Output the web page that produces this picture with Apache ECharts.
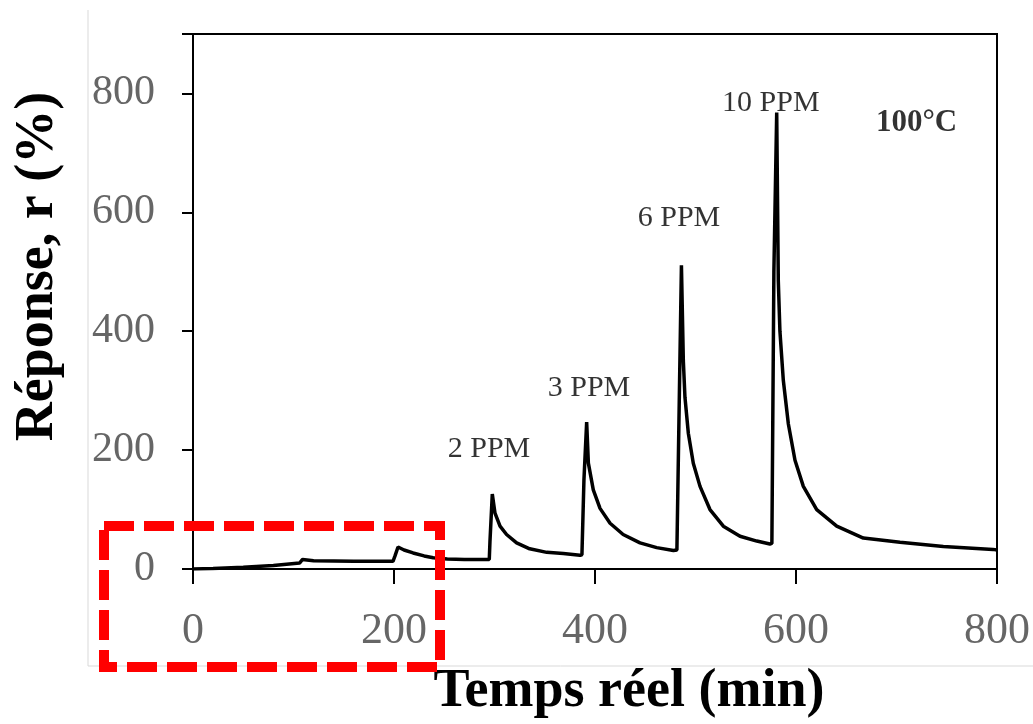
<!DOCTYPE html>
<html>
<head>
<meta charset="utf-8">
<script src="https://cdn.jsdelivr.net/npm/echarts@6/dist/echarts.min.js"></script>
<style>
html,body{margin:0;padding:0;background:#fff;}
#chart{width:1033px;height:724px;}
</style>
</head>
<body>
<div id="chart"></div>
<script>
// Time (min)
var timeMin = [0, 20, 50, 80, 106, 109, 120, 160, 199, 201, 204, 210, 219, 230, 239, 253, 270, 292,
  294.8, 295.5, 297.8, 300.5, 305.5, 312, 322, 335, 352, 368.5, 385, 387,
  389, 391.7, 393.4, 398.3, 405, 415, 428, 444.8, 461.4, 478, 481.5,
  484, 486, 487.9, 489.5, 492.9, 497.8, 504.5, 514.4, 527.7, 544.3, 561, 574, 576,
  578, 580.8, 582.4, 584, 587.4, 592.4, 599, 607.3, 620.6, 640.5, 667, 703.5, 746.6, 796, 800];
// Response r (%)
var response = [0, 1, 3, 6, 10, 16, 14, 13, 13, 22, 37, 32, 27, 22, 19, 17, 16, 16,
  16, 47, 126, 94, 72, 58, 44, 34, 28, 26, 23, 24,
  150, 247, 178, 133, 102, 77, 58, 44, 36, 31, 32,
  300, 511, 350, 289, 228, 178, 139, 100, 72, 55, 47, 42, 43,
  500, 768, 484, 400, 317, 244, 183, 139, 100, 72, 52, 45, 38, 33, 32];
var xTicks = [0, 200, 400, 600, 800];
var yTicks = [0, 200, 400, 600, 800];
var annotations = [
  {text: '2 PPM', x: 294.5, y: 202, bold: false},
  {text: '3 PPM', x: 394, y: 304, bold: false},
  {text: '6 PPM', x: 483.6, y: 590, bold: false},
  {text: '10 PPM', x: 575, y: 784, bold: false},
  {text: '100°C', x: 720, y: 751, bold: true}
];

var seriesData = timeMin.map(function (t, i) { return [t, response[i]]; });
var FONT = '"Liberation Serif", "Times New Roman", serif';

var chart = echarts.init(document.getElementById('chart'), null, {renderer: 'canvas'});
chart.setOption({
  backgroundColor: '#fff',
  animation: false,
  grid: {left: 193, right: 36, top: 34, bottom: 151, show: true, borderColor: '#000', borderWidth: 2, backgroundColor: 'transparent'},
  xAxis: {
    type: 'value', min: 0, max: 800, interval: 200,
    name: 'Temps réel (min)', nameLocation: 'middle', nameGap: 96,
    nameTextStyle: {fontFamily: FONT, fontWeight: 'bold', fontSize: 54, color: '#000', padding: [0, 0, 0, 68]},
    axisLine: {show: true, lineStyle: {color: '#000', width: 2}},
    axisTick: {show: true, inside: false, length: 15, lineStyle: {color: '#000', width: 2}},
    axisLabel: {margin: 40, fontFamily: FONT, fontSize: 44, color: '#666',
      formatter: function (v) { return xTicks.indexOf(v) >= 0 ? String(v) : ''; }},
    splitLine: {show: false}
  },
  yAxis: {
    type: 'value', min: 0, max: 900, interval: 200,
    name: 'Réponse, r (%)', nameLocation: 'middle', nameGap: 128, nameRotate: 90,
    nameTextStyle: {fontFamily: FONT, fontWeight: 'bold', fontSize: 54, color: '#000', padding: [0, 0, 0, 70]},
    axisLine: {show: true, lineStyle: {color: '#000', width: 2}},
    axisTick: {show: true, inside: false, length: 11, lineStyle: {color: '#000', width: 2}},
    axisLabel: {margin: 38, fontFamily: FONT, fontSize: 42, color: '#666',
      formatter: function (v) { return yTicks.indexOf(v) >= 0 ? String(v) : ''; }},
    splitLine: {show: false}
  },
  series: [
    {
      type: 'line', data: seriesData, showSymbol: false, symbol: 'none',
      lineStyle: {color: '#000', width: 3.5}, smooth: false, z: 3
    },
    {
      type: 'scatter', symbolSize: 0, silent: true, z: 4,
      data: annotations.map(function (a) {
        return {value: [a.x, a.y], label: {show: true, position: 'inside', formatter: a.text,
          fontFamily: FONT, fontSize: a.bold ? 31 : 30, fontWeight: a.bold ? 'bold' : 'normal', color: '#000'}};
      })
    }
  ],
  graphic: [
    {type: 'line', shape: {x1: 88, y1: 10, x2: 88, y2: 666}, style: {stroke: '#d9d9d9', lineWidth: 1}, z: 1},
    {type: 'line', shape: {x1: 88, y1: 666, x2: 1033, y2: 666}, style: {stroke: '#d9d9d9', lineWidth: 1}, z: 1},
    {type: 'rect', shape: {x: 104, y: 526, width: 336, height: 141},
      style: {fill: 'none', stroke: '#ff0000', lineWidth: 10, lineDash: [30, 10]}, z: 10}
  ]
});
</script>
</body>
</html>
